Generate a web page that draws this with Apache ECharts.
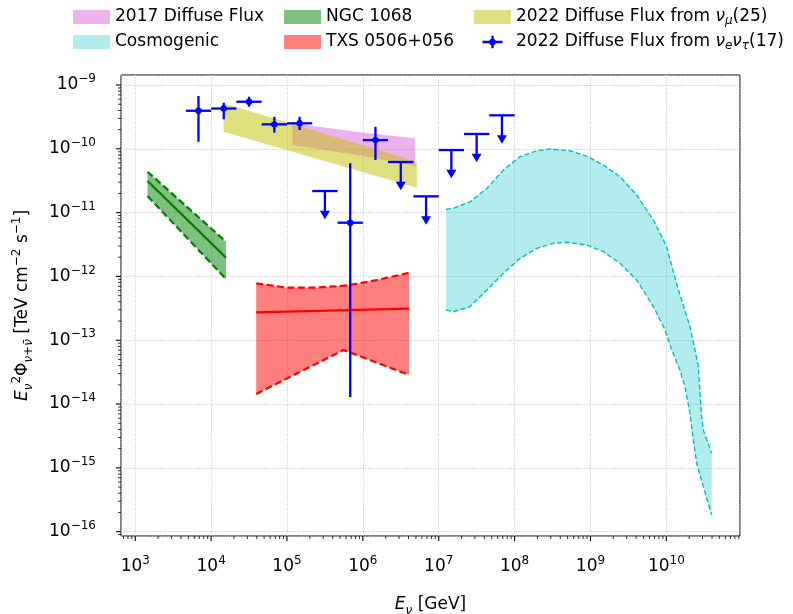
<!DOCTYPE html>
<html>
<head>
<meta charset="utf-8">
<script src="https://cdn.jsdelivr.net/npm/echarts@6/dist/echarts.min.js"></script>
<style>
html, body { margin: 0; padding: 0; background: #fff; }
#chart { width: 793px; height: 614px; }
</style>
</head>
<body>
<div id="chart"></div>
<script>
// Neutrino flux landscape: energies in GeV, fluxes as E^2 Phi in TeV cm^-2 s^-1.

// 2017 diffuse flux band
const diff2017E  = [1.18e5, 1.02e6, 4.89e6];
const diff2017Hi = [2.51e-10, 1.79e-10, 1.46e-10];
const diff2017Lo = [1.15e-10, 7.7e-11, 5.38e-11];

// 2022 diffuse flux from nu_mu tracks
const numuE  = [1.46e4, 5.14e6];
const numuHi = [5.16e-10, 6.28e-11];
const numuLo = [1.85e-10, 2.46e-11];

// NGC 1068
const ngcE    = [1.45e3, 1.57e4];
const ngcBest = [3.13e-11, 1.97e-12];
const ngcHi   = [4.38e-11, 3.50e-12];
const ngcLo   = [1.82e-11, 9.12e-13];

// TXS 0506+056
const txsE     = [3.93e4, 4.07e6];
const txsBest  = [2.74e-13, 3.12e-13];
const txsHiE   = [3.93e4, 1.0e5, 2.23e5, 5.02e5, 6.81e5, 1.53e6, 4.07e6];
const txsHi    = [7.80e-13, 6.67e-13, 6.67e-13, 7.08e-13, 7.35e-13, 8.79e-13, 1.14e-12];
const txsLoE   = [3.93e4, 5.56e5, 4.07e6];
const txsLo    = [1.44e-14, 7.03e-14, 2.85e-14];

// Cosmogenic band (upper and lower envelopes)
const cosmoUpE = [1.25e7, 1.56e7, 2.59e7, 4.31e7, 7.11e7, 1.18e8, 1.96e8, 2.94e8, 5.38e8, 8.93e8,
                  1.48e9, 2.45e9, 4.07e9, 6.75e9, 1.01e10, 1.36e10, 2.05e10, 2.39e10, 2.64e10,
                  2.78e10, 2.92e10, 3.07e10, 3.96e10];
const cosmoUp  = [1.13e-11, 1.17e-11, 1.48e-11, 2.40e-11, 4.66e-11, 7.52e-11, 9.33e-11, 9.93e-11, 9.33e-11, 7.71e-11,
                  5.57e-11, 3.66e-11, 1.89e-11, 7.66e-12, 2.92e-12, 7.80e-13, 1.63e-13, 7.03e-14, 3.85e-14,
                  1.48e-14, 6.34e-15, 3.92e-15, 1.69e-15];
const cosmoLoE = [1.25e7, 1.56e7, 2.59e7, 4.31e7, 7.11e7, 1.18e8, 1.96e8, 3.24e8, 4.88e8, 8.93e8,
                  1.48e9, 2.45e9, 4.07e9, 6.75e9, 9.62e9, 1.18e10, 1.51e10, 1.76e10, 2.05e10,
                  2.27e10, 2.51e10, 3.07e10, 3.96e10];
const cosmoLo  = [2.98e-13, 2.80e-13, 3.36e-13, 6.12e-13, 1.12e-12, 1.92e-12, 2.76e-12, 3.30e-12, 3.43e-12, 3.11e-12,
                  2.44e-12, 1.61e-12, 8.79e-13, 3.36e-13, 1.45e-13, 7.03e-14, 3.42e-14, 1.87e-14, 7.16e-15,
                  2.74e-15, 1.18e-15, 5.07e-16, 1.82e-16];

// 2022 diffuse flux from nu_e nu_tau cascades: measured bins
const casBinLo  = [4.64e3, 1.0e4, 2.15e4, 4.64e4, 1.0e5, 4.64e5, 1.0e6];
const casBinHi  = [1.0e4, 2.15e4, 4.64e4, 1.0e5, 2.15e5, 1.0e6, 2.15e6];
const casFlux   = [3.95e-10, 4.28e-10, 5.47e-10, 2.42e-10, 2.51e-10, 6.95e-12, 1.37e-10];
const casFluxLo = [1.29e-10, 2.90e-10, 4.57e-10, 1.79e-10, 1.97e-10, 1.29e-14, 6.68e-11];
const casFluxHi = [6.72e-10, 5.28e-10, 6.56e-10, 3.18e-10, 3.18e-10, 5.93e-11, 2.22e-10];

// cascade bins with upper limits only
const ulBinLo = [2.15e5, 2.15e6, 4.64e6, 1.0e7, 2.15e7, 4.64e7];
const ulBinHi = [4.64e5, 4.64e6, 1.0e7, 2.15e7, 4.64e7, 1.0e8];
const ulFlux  = [2.18e-11, 6.21e-11, 1.80e-11, 9.57e-11, 1.71e-10, 3.35e-10];

// tick label exponents
const xTickExps = [3, 4, 5, 6, 7, 8, 9, 10];
const yTickExps = [-16, -15, -14, -13, -12, -11, -10, -9];

// axis extents in log10 units
const X_MIN = 2.812, X_MAX = 10.971;
const Y_MIN = -16.068, Y_MAX = -8.843;

const FONT = 'DejaVu Sans';
const BLUE = '#0000ff';
const ulArrowFactor = 0.36;
const lg = Math.log10;

const NAME_2017 = '2017 Diffuse Flux';
const NAME_COSMO = 'Cosmogenic';
const NAME_NGC = 'NGC 1068';
const NAME_TXS = 'TXS 0506+056';
const NAME_NUMU = '2022 Diffuse Flux from numu(25)';
const NAME_CAS = '2022 Diffuse Flux from nuenutau(17)';

const legendRich = {
  '2017 Diffuse Flux': '2017 Diffuse Flux',
  'Cosmogenic': 'Cosmogenic',
  'NGC 1068': 'NGC 1068',
  'TXS 0506+056': 'TXS 0506+056',
  [NAME_NUMU]: '2022 Diffuse Flux from {i|ν}{sb|μ}(25)',
  [NAME_CAS]: '2022 Diffuse Flux from {i|ν}{sb|e}{i|ν}{sb|τ}(17)'
};

function pts(es, fs, api) {
  return es.map((e, i) => api.coord([lg(e), lg(fs[i])]));
}

function bandItem(upE, up, loE, lo, fill, api) {
  const top = pts(upE, up, api);
  const bot = pts(loE, lo, api).reverse();
  return { type: 'polygon', shape: { points: top.concat(bot) }, style: { fill: fill } };
}

function lineItem(es, fs, stroke, width, dash, api) {
  return {
    type: 'polyline',
    shape: { points: pts(es, fs, api) },
    style: { stroke: stroke, lineWidth: width, lineDash: dash, fill: null }
  };
}

function bandSeries(name, color, z, build) {
  return {
    type: 'custom', name: name, z: z, silent: true,
    itemStyle: { color: color },
    data: [[X_MIN, Y_MIN]],
    renderItem: (params, api) => build(api)
  };
}

const C_2017 = 'rgba(191,0,191,0.3)';
const C_NUMU = 'rgba(191,191,0,0.5)';
const C_NGC = 'rgba(0,128,0,0.5)';
const C_TXS = 'rgba(255,0,0,0.5)';
const C_COSMO = 'rgba(0,191,191,0.3)';

const casData = casFlux.map((f, i) => [
  lg(Math.sqrt(casBinLo[i] * casBinHi[i])), lg(f),
  lg(casBinLo[i]), lg(casBinHi[i]), lg(casFluxLo[i]), lg(casFluxHi[i])
]);
const ulData = ulFlux.map((f, i) => [
  lg(Math.sqrt(ulBinLo[i] * ulBinHi[i])), lg(f),
  lg(ulBinLo[i]), lg(ulBinHi[i]), lg(f * ulArrowFactor)
]);

function renderCascade(params, api) {
  const x = api.value(0), y = api.value(1);
  const c = api.coord([x, y]);
  const l = api.coord([api.value(2), y]), r = api.coord([api.value(3), y]);
  const b = api.coord([x, api.value(4)]), t = api.coord([x, api.value(5)]);
  return {
    type: 'group', children: [
      { type: 'line', shape: { x1: l[0], y1: c[1], x2: r[0], y2: c[1] }, style: { stroke: BLUE, lineWidth: 2.3 } },
      { type: 'line', shape: { x1: c[0], y1: t[1], x2: c[0], y2: b[1] }, style: { stroke: BLUE, lineWidth: 2.3 } },
      { type: 'circle', shape: { cx: c[0], cy: c[1], r: 3.2 }, style: { fill: BLUE } }
    ]
  };
}

function renderLimit(params, api) {
  const x = api.value(0), y = api.value(1);
  const c = api.coord([x, y]);
  const l = api.coord([api.value(2), y]), r = api.coord([api.value(3), y]);
  const tip = api.coord([x, api.value(4)]);
  const hh = 8.5, hw = 5;
  return {
    type: 'group', children: [
      { type: 'line', shape: { x1: l[0], y1: c[1], x2: r[0], y2: c[1] }, style: { stroke: BLUE, lineWidth: 2.3 } },
      { type: 'line', shape: { x1: c[0], y1: c[1], x2: c[0], y2: tip[1] - hh + 1 }, style: { stroke: BLUE, lineWidth: 2.3 } },
      { type: 'polygon', shape: { points: [[c[0] - hw, tip[1] - hh], [c[0] + hw, tip[1] - hh], [c[0], tip[1]]] }, style: { fill: BLUE } }
    ]
  };
}

// log-decade ticks (major and minor) on the left and bottom spines
function renderTicks(params, api) {
  const children = [];
  const origin = api.coord([X_MIN, Y_MIN]);
  for (let d = Math.floor(X_MIN); d <= Math.ceil(X_MAX); d++) {
    for (let k = 1; k <= 9; k++) {
      const v = d + lg(k);
      if (v < X_MIN || v > X_MAX) continue;
      const px = api.coord([v, Y_MIN])[0];
      const major = k === 1;
      children.push({ type: 'line', shape: { x1: px, y1: origin[1], x2: px, y2: origin[1] + (major ? 5 : 3) },
        style: { stroke: '#000', lineWidth: major ? 1.1 : 0.8 } });
    }
  }
  for (let d = Math.floor(Y_MIN); d <= Math.ceil(Y_MAX); d++) {
    for (let k = 1; k <= 9; k++) {
      const v = d + lg(k);
      if (v < Y_MIN || v > Y_MAX) continue;
      const py = api.coord([X_MIN, v])[1];
      const major = k === 1;
      children.push({ type: 'line', shape: { x1: origin[0], y1: py, x2: origin[0] - (major ? 5 : 3), y2: py },
        style: { stroke: '#000', lineWidth: major ? 1.1 : 0.8 } });
    }
  }
  return { type: 'group', children: children };
}

function expLabel(exps) {
  return function (v) {
    const n = Math.round(v);
    if (Math.abs(v - n) > 1e-6 || exps.indexOf(n) < 0) return '';
    return '{n|10}{s|' + String(n).replace('-', '\u2212') + '}';
  };
}

const tickRich = {
  n: { fontFamily: FONT, fontSize: 17, lineHeight: 24, color: '#000' },
  s: { fontFamily: FONT, fontSize: 12, lineHeight: 12, verticalAlign: 'top', color: '#000' }
};
const nameRich = {
  n: { fontFamily: FONT, fontSize: 17, lineHeight: 24, color: '#000' },
  i: { fontFamily: FONT, fontSize: 17, lineHeight: 24, fontStyle: 'italic', color: '#000' },
  sb: { fontFamily: FONT, fontSize: 12, lineHeight: 11, verticalAlign: 'bottom', fontStyle: 'italic', color: '#000' },
  sp: { fontFamily: FONT, fontSize: 12, lineHeight: 12, verticalAlign: 'top', color: '#000' }
};
const gridLine = { show: true, lineStyle: { color: '#c4c4c4', width: 1, type: [1, 1.6] } };

const legendBase = {
  orient: 'vertical', top: 7, padding: 0, itemWidth: 37, itemHeight: 14, itemGap: 5,
  selectedMode: false, icon: 'rect',
  formatter: name => legendRich[name] || name,
  textStyle: {
    fontFamily: FONT, fontSize: 17, lineHeight: 20, color: '#000',
    rich: {
      i: { fontFamily: FONT, fontSize: 17, lineHeight: 20, fontStyle: 'italic', color: '#000' },
      sb: { fontFamily: FONT, fontSize: 12, lineHeight: 10, verticalAlign: 'bottom', fontStyle: 'italic', color: '#000' }
    }
  }
};
const crossIcon = 'path://M0,0h0.01v0.01h-0.01zM36.99,13.99h0.01v0.01h-0.01zM8.5,5.8h20v2.4h-20zM17.3,0.8h2.4v12.4h-2.4zM21.8,7a3.3,3.3 0 1,1 -6.6,0a3.3,3.3 0 1,1 6.6,0z';

const option = {
  animation: false,
  backgroundColor: '#fff',
  textStyle: { fontFamily: FONT },
  grid: {
    left: 121, right: 53, top: 75, bottom: 78,
    show: true, borderColor: '#000', borderWidth: 1, backgroundColor: 'transparent',
    containLabel: false, outerBoundsMode: 'none'
  },
  legend: [
    Object.assign({}, legendBase, { left: 73, data: [NAME_2017, NAME_COSMO] }),
    Object.assign({}, legendBase, { left: 284, data: [NAME_NGC, NAME_TXS] }),
    Object.assign({}, legendBase, { left: 474, data: [NAME_NUMU, { name: NAME_CAS, icon: crossIcon }] })
  ],
  xAxis: {
    type: 'value', min: X_MIN, max: X_MAX, splitNumber: 8, minInterval: 1, maxInterval: 1,
    axisLine: { show: false, onZero: false }, axisTick: { show: false },
    splitLine: gridLine,
    axisLabel: { margin: 19, formatter: expLabel(xTickExps), rich: tickRich, showMinLabel: true, showMaxLabel: true },
    name: '{i|E}{sb|ν}{n| [GeV]}', nameLocation: 'middle', nameGap: 57,
    nameTextStyle: { rich: nameRich }
  },
  yAxis: {
    type: 'value', min: Y_MIN, max: Y_MAX, splitNumber: 7, minInterval: 1, maxInterval: 1,
    axisLine: { show: false, onZero: false }, axisTick: { show: false },
    splitLine: gridLine,
    axisLabel: { margin: 25, formatter: expLabel(yTickExps), rich: tickRich },
    name: '{i|E}{sb|ν}{sp|2}{n|Φ}{sb|ν+ν\u0304}{n| [TeV cm}{sp|\u22122}{n| s}{sp|\u22121}{n|]}',
    nameLocation: 'middle', nameRotate: 90, nameGap: 86,
    nameTextStyle: { rich: nameRich }
  },
  series: [
    {
      type: 'custom', name: 'ticks', silent: true, z: 1, data: [[X_MIN, Y_MIN]],
      renderItem: renderTicks
    },
    bandSeries(NAME_COSMO, C_COSMO, 2, api => ({
      type: 'group', children: [
        bandItem(cosmoUpE, cosmoUp, cosmoLoE, cosmoLo, C_COSMO, api),
        lineItem(cosmoUpE, cosmoUp, '#00bfbf', 1.4, [5, 2.5], api),
        lineItem(cosmoLoE, cosmoLo, '#00bfbf', 1.4, [5, 2.5], api)
      ]
    })),
    bandSeries(NAME_2017, C_2017, 2, api => bandItem(diff2017E, diff2017Hi, diff2017E, diff2017Lo, C_2017, api)),
    bandSeries(NAME_NUMU, C_NUMU, 3, api => bandItem(numuE, numuHi, numuE, numuLo, C_NUMU, api)),
    bandSeries(NAME_NGC, C_NGC, 3, api => ({
      type: 'group', children: [
        bandItem(ngcE, ngcHi, ngcE, ngcLo, C_NGC, api),
        lineItem(ngcE, ngcHi, '#008000', 2.2, [7, 3.5], api),
        lineItem(ngcE, ngcLo, '#008000', 2.2, [7, 3.5], api),
        lineItem(ngcE, ngcBest, '#008000', 2.2, null, api)
      ]
    })),
    bandSeries(NAME_TXS, C_TXS, 3, api => ({
      type: 'group', children: [
        bandItem(txsHiE, txsHi, txsLoE, txsLo, C_TXS, api),
        lineItem(txsHiE, txsHi, '#ff0000', 2.2, [7, 3.5], api),
        lineItem(txsLoE, txsLo, '#ff0000', 2.2, [7, 3.5], api),
        lineItem(txsE, txsBest, '#ff0000', 2.2, null, api)
      ]
    })),
    {
      type: 'custom', name: NAME_CAS, z: 5, silent: true,
      itemStyle: { color: BLUE },
      encode: { x: 0, y: 1 },
      data: casData, renderItem: renderCascade
    },
    {
      type: 'custom', name: NAME_CAS, z: 5, silent: true,
      itemStyle: { color: BLUE },
      encode: { x: 0, y: 1 },
      data: ulData, renderItem: renderLimit
    }
  ]
};

const chart = echarts.init(document.getElementById('chart'), null, { renderer: 'canvas' });
chart.setOption(option);
</script>
</body>
</html>
